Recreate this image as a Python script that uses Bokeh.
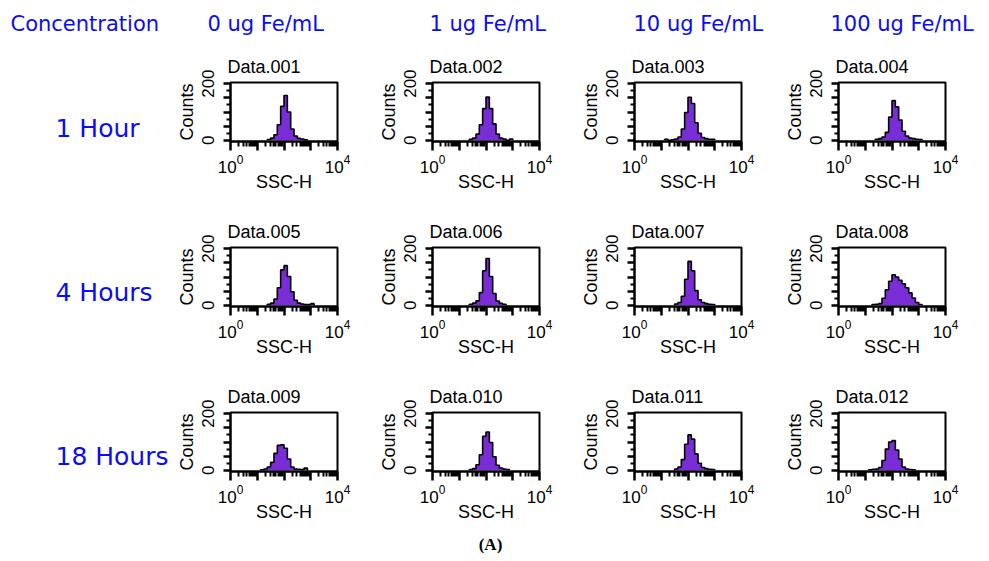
import numpy as np
from bokeh.plotting import figure
from bokeh.layouts import column, row
from bokeh.models import Range1d, FixedTicker
from bokeh.core.properties import value
from bokeh.embed import file_html
from bokeh.resources import INLINE

# ---------------- data ----------------
header_label = "Concentration"
concentrations = ["0 ug Fe/mL", "1 ug Fe/mL", "10 ug Fe/mL", "100 ug Fe/mL"]
times = ["1 Hour", "4 Hours", "18 Hours"]
sample_names = ["Data.001", "Data.002", "Data.003", "Data.004",
                "Data.005", "Data.006", "Data.007", "Data.008",
                "Data.009", "Data.010", "Data.011", "Data.012"]
figure_tag = "(A)"

# SSC-H histograms: counts in 32 log bins (8 per decade) from 10^0 to 10^4
c001 = [0,0,0,0,0,0,0,0,0,0,0,3,8,20,55,120,158,100,40,15,7,5,2,0,0,0,0,0,0,0,0,0]
c002 = [0,0,0,0,0,0,0,0,0,0,0,4,8,22,55,112,153,112,58,22,8,5,0,5,0,0,0,0,0,0,0,0]
c003 = [0,0,0,0,0,0,0,0,0,4,0,2,5,12,40,98,152,130,62,25,10,6,4,4,0,0,0,0,0,0,0,0]
c004 = [0,0,0,0,0,0,0,0,0,0,0,4,6,12,28,82,140,118,72,32,15,8,6,4,3,0,0,0,0,0,0,0]
c005 = [0,0,0,0,0,0,0,0,0,0,0,4,8,22,62,125,140,102,48,18,8,5,3,3,6,0,0,0,0,0,0,0]
c006 = [0,0,0,0,0,0,0,0,0,0,0,4,8,16,45,122,165,102,42,15,7,4,0,0,0,0,0,0,0,0,0,0]
c007 = [0,0,0,0,0,0,0,0,0,0,0,0,5,10,32,92,155,122,52,20,10,6,4,3,0,0,0,0,0,0,0,0]
c008 = [0,0,0,0,0,0,0,0,0,0,3,4,6,25,55,85,108,100,88,76,62,44,26,10,3,0,0,0,0,0,0,0]
c009 = [0,0,0,0,0,0,0,0,0,2,5,12,28,60,88,90,78,40,12,5,4,3,8,0,0,0,0,0,0,0,0,0]
c010 = [0,0,0,0,0,0,0,0,0,0,0,3,6,20,55,120,135,98,48,18,8,5,3,0,0,0,0,0,0,0,0,0]
c011 = [0,0,0,0,0,0,0,0,0,0,0,0,5,12,38,92,125,110,58,25,10,6,4,3,0,0,0,0,0,0,0,0]
c012 = [0,0,0,0,0,0,0,0,0,2,4,5,10,35,75,100,105,72,40,12,5,3,2,0,0,0,0,0,0,0,0,0]
histograms = [c001, c002, c003, c004, c005, c006, c007, c008, c009, c010, c011, c012]
bins_per_decade = 8
decades = 4
bin_edges = np.logspace(0, decades, decades * bins_per_decade + 1)

# ---------------- style / layout ----------------
BLUE = "#0b0bf5"
PURPLE = "#7a2dd6"
PANEL_FONT = "Liberation Sans"
HEAD_FONT = "DejaVu Sans"
col_widths = [202, 202, 204, 200]
row_heights = [165, 165, 153]
LEFT_W = 173
HEADER_H = 48
FOOTER_H = 22
TOTAL_W = 981
FRAME_W = 107
FRAME_H = 64
BORDER_L = 57
BORDER_T = 29
header_x = [10, 207, 429, 633, 830]
row_label_from_top = [46, 45, 44]


def blank(width, height):
    p = figure(frame_width=width, frame_height=height,
               x_range=Range1d(0, width), y_range=Range1d(0, height),
               x_axis_location=None, y_axis_location=None, output_backend="svg",
               toolbar_location=None, min_border_left=0, min_border_right=0,
               min_border_top=0, min_border_bottom=0, outline_line_color=None, title=None)
    p.grid.visible = False
    return p


def panel(name, counts, width, height):
    p = figure(width=width, height=height, x_axis_type="log",
               x_range=Range1d(1, 10 ** decades), y_range=Range1d(-4, 204),
               output_backend="svg", toolbar_location=None,
               min_border_left=BORDER_L, min_border_right=width - BORDER_L - FRAME_W,
               min_border_top=BORDER_T, min_border_bottom=height - BORDER_T - FRAME_H,
               title=name)
    p.grid.visible = False
    p.outline_line_color = "black"
    p.outline_line_width = 2
    p.outline_line_alpha = 1
    p.title.text_font = PANEL_FONT
    p.title.text_font_size = "18px"
    p.title.text_font_style = "normal"
    p.title.text_color = "black"
    p.title.standoff = 12
    p.title.offset = -3

    nz = [i for i, c in enumerate(counts) if c > 0]
    lo, hi = nz[0], nz[-1] + 1
    xs = list(bin_edges[lo:hi + 1])
    ys = list(counts[lo:hi]) + [0]
    xs = [xs[0]] + xs
    ys = [0] + ys
    p.varea_step(x=xs, y1=0, y2=ys, step_mode="after", fill_color=PURPLE)
    p.step(x=xs, y=ys, mode="after", line_color="black", line_width=1.6)

    minor_x = [k * 10 ** d for d in range(decades) for k in range(2, 10)]
    p.xaxis.ticker = FixedTicker(ticks=[10 ** d for d in range(decades + 1)], minor_ticks=minor_x)
    p.xaxis.major_label_overrides = {float(10 ** d): "" for d in range(1, decades)}
    p.yaxis.ticker = FixedTicker(ticks=[0, 50, 100, 150, 200], minor_ticks=[25, 75, 125, 175])
    p.yaxis.major_label_overrides = {50.0: "", 100.0: "", 150.0: ""}
    p.yaxis.major_label_orientation = "vertical"
    p.xaxis.axis_label = "SSC-H"
    p.yaxis.axis_label = "Counts"
    for ax in (p.xaxis, p.yaxis):
        ax.axis_line_color = "black"
        ax.axis_line_width = 2
        ax.major_tick_line_color = "black"
        ax.minor_tick_line_color = "black"
        ax.major_tick_line_width = 2.5
        ax.minor_tick_line_width = 2
        ax.major_tick_in = 0
        ax.minor_tick_in = 0
        ax.major_label_text_font = PANEL_FONT
        ax.major_label_text_font_size = "17px"
        ax.major_label_text_color = "black"
        ax.axis_label_text_font = PANEL_FONT
        ax.axis_label_text_font_size = "18px"
        ax.axis_label_text_font_style = "normal"
        ax.axis_label_text_color = "black"
    p.xaxis.major_tick_out = 9
    p.xaxis.minor_tick_out = 5
    p.xaxis.major_label_standoff = 4
    p.xaxis.axis_label_standoff = -4
    p.yaxis.major_tick_out = 7
    p.yaxis.minor_tick_out = 4
    p.yaxis.major_label_standoff = 9
    p.yaxis.axis_label_standoff = 3
    return p


# header
header = blank(TOTAL_W, HEADER_H)
header.text(x=header_x, y=[HEADER_H - 23] * 5, text=[header_label] + concentrations,
            text_font=value(HEAD_FONT), text_font_size="21px", text_color=BLUE,
            text_baseline="middle", text_align="left")

rows = [header]
for r, t in enumerate(times):
    h = row_heights[r]
    lab = blank(LEFT_W, h)
    lab.text(x=[55], y=[h - row_label_from_top[r]], text=[t],
             text_font=value(HEAD_FONT), text_font_size="25px",
             text_color=BLUE, text_baseline="middle", text_align="left")
    figs = [lab]
    for c in range(4):
        k = r * 4 + c
        figs.append(panel(sample_names[k], histograms[k], col_widths[c], h))
    rows.append(row(*figs, spacing=0))

footer = blank(TOTAL_W, FOOTER_H)
footer.text(x=[490], y=[FOOTER_H - 13], text=[figure_tag], text_font=value("Liberation Serif"),
            text_font_style="bold", text_font_size="17px", text_color="black",
            text_baseline="middle", text_align="center")
rows.append(footer)

layout = column(*rows, spacing=0)
open("out.html", "w").write(file_html(layout, INLINE))
